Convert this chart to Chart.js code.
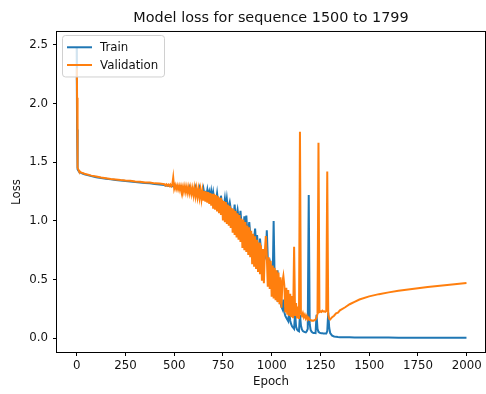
<!DOCTYPE html>
<html>
<head>
<meta charset="utf-8">
<script src="https://cdn.jsdelivr.net/npm/chart.js@4/dist/chart.umd.min.js"></script>
<style>
html,body{margin:0;padding:0;background:#ffffff;}
canvas{display:block;}
</style>
</head>
<body>
<canvas id="c" width="486" height="394"></canvas>
<script>
const titleText = 'Model loss for sequence 1500 to 1799';
const xTitle = 'Epoch';
const yTitle = 'Loss';
const seriesNames = ['Train', 'Validation'];
const xTicks = [0, 250, 500, 750, 1000, 1250, 1500, 1750, 2000];
const yTicks = [0.0, 0.5, 1.0, 1.5, 2.0, 2.5];

const epochs = [
  0, 1, 2, 3, 4, 5, 6, 8, 10, 15, 20, 30, 40,
  50, 75, 100, 125, 150, 175, 200, 225, 250, 275, 300, 325, 350, 375, 400, 425,
  450, 455, 460, 465, 470, 475, 480, 485, 490, 495,
  500, 505, 510, 515, 520, 525, 530, 535, 540, 545,
  550, 555, 560, 565, 570, 575, 580, 585, 590, 595,
  600, 605, 610, 615, 620, 625, 630, 635, 640, 645,
  650, 655, 660, 665, 670, 675, 680, 685, 690, 695,
  700, 705, 710, 715, 720, 725, 730, 735, 740, 745,
  750, 755, 760, 765, 770, 775, 780, 785, 790, 795,
  800, 805, 810, 815, 820, 825, 830, 835, 840, 845,
  850, 855, 860, 865, 870, 875, 880, 885, 890, 895,
  900, 905, 910, 915, 920, 925, 930, 935, 940, 945,
  950, 955, 960, 965, 970, 975, 980, 985, 990, 995,
  1000, 1005, 1010, 1015, 1020, 1025, 1030, 1035, 1040, 1045,
  1050, 1055, 1060, 1065, 1070, 1075, 1080, 1085, 1090, 1095,
  1100, 1105, 1110, 1115, 1120, 1125, 1130, 1135, 1140, 1145,
  1150, 1155, 1160, 1165, 1170, 1175, 1180, 1185, 1190, 1195,
  1200, 1205, 1210, 1215, 1220, 1225, 1230, 1235, 1240, 1245,
  1250, 1255, 1260, 1265, 1270, 1275, 1280, 1285, 1290, 1295,
  1300,
  1310, 1320, 1330, 1340, 1350, 1375, 1400, 1425, 1450, 1500,
  1550, 1600, 1650, 1700, 1750, 1800, 1850, 1900, 1950, 1999
];

const trainLoss = [
  2.48, 2.10, 1.78, 1.58, 1.49, 1.455, 1.44, 1.43, 1.425, 1.418, 1.412, 1.404, 1.398,
  1.392, 1.382, 1.373, 1.366, 1.360, 1.354, 1.349, 1.344, 1.340, 1.336, 1.332, 1.328, 1.324, 1.320, 1.315, 1.311,
  1.305, 1.300, 1.303, 1.298, 1.301, 1.296, 1.300, 1.294, 1.298, 1.295,
  1.292, 1.288, 1.296, 1.285, 1.290, 1.283, 1.292, 1.280, 1.287, 1.278,
  1.280, 1.272, 1.285, 1.268, 1.276, 1.264, 1.290, 1.262, 1.270, 1.258,
  1.262, 1.252, 1.285, 1.244, 1.255, 1.240, 1.280, 1.236, 1.248, 1.232,
  1.275, 1.225, 1.240, 1.215, 1.265, 1.208, 1.248, 1.200, 1.255, 1.195,
  1.245, 1.185, 1.200, 1.170, 1.235, 1.160, 1.180, 1.150, 1.215, 1.140,
  1.150, 1.125, 1.190, 1.110, 1.185, 1.100, 1.125, 1.160, 1.105, 1.075,
  1.060, 1.040, 1.140, 1.020, 1.050, 1.095, 1.030, 0.985, 1.085, 0.970,
  0.950, 0.925, 1.040, 0.905, 1.045, 0.890, 0.915, 0.990, 0.890, 0.850,
  0.860, 0.830, 0.850, 0.935, 0.800, 0.880, 0.780, 0.800, 0.850, 0.760,
  0.740, 0.700, 0.720, 0.680, 0.700, 0.920, 0.680, 0.640, 0.660, 0.620,
  0.520, 0.470, 1.000, 0.520, 0.430, 0.380, 0.580, 0.400, 0.330, 0.300,
  0.270, 0.250, 0.330, 0.220, 0.190, 0.175, 0.160, 0.145, 0.240, 0.150,
  0.120, 0.100, 0.090, 0.080, 0.215, 0.100, 0.075, 0.065, 0.060, 0.200,
  0.110, 0.075, 0.062, 0.056, 0.052, 0.050, 0.060, 0.080, 1.220, 0.120,
  0.070, 0.055, 0.048, 0.045, 0.044, 0.043, 0.200, 0.080, 0.055, 0.048,
  0.045, 0.043, 0.042, 0.041, 0.041, 0.040, 0.040, 0.060, 0.220, 0.090,
  0.045,
  0.022, 0.015, 0.012, 0.010, 0.009, 0.008, 0.008, 0.007, 0.007, 0.006,
  0.006, 0.006, 0.005, 0.005, 0.005, 0.005, 0.005, 0.005, 0.005, 0.005
];

const valLoss = [
  2.20, 2.30, 2.05, 1.75, 1.56, 1.48, 1.455, 1.44, 1.432, 1.422, 1.416, 1.408, 1.402,
  1.397, 1.386, 1.378, 1.370, 1.364, 1.358, 1.353, 1.348, 1.344, 1.342, 1.336, 1.334, 1.328, 1.327, 1.320, 1.318,
  1.312, 1.302, 1.311, 1.300, 1.309, 1.297, 1.310, 1.295, 1.306, 1.370,
  1.275, 1.305, 1.272, 1.302, 1.268, 1.300, 1.262, 1.298, 1.260, 1.295,
  1.250, 1.294, 1.246, 1.290, 1.240, 1.287, 1.236, 1.284, 1.230, 1.278,
  1.218, 1.280, 1.212, 1.274, 1.205, 1.268, 1.198, 1.262, 1.185, 1.255,
  1.172, 1.255, 1.165, 1.250, 1.155, 1.245, 1.145, 1.238, 1.130, 1.230,
  1.105, 1.232, 1.095, 1.220, 1.080, 1.210, 1.065, 1.198, 1.050, 1.180,
  1.005, 1.170, 0.990, 1.160, 0.975, 1.140, 0.960, 1.128, 0.940, 1.110,
  0.900, 1.100, 0.880, 1.085, 0.860, 1.065, 0.840, 1.050, 0.820, 1.020,
  0.770, 1.010, 0.750, 0.990, 0.735, 0.960, 0.710, 0.945, 0.690, 0.915,
  0.630, 0.890, 0.610, 0.870, 0.590, 0.840, 0.565, 0.815, 0.545, 0.790,
  0.490, 0.760, 0.470, 0.745, 0.870, 0.700, 0.440, 0.690, 0.420, 0.660,
  0.355, 0.620, 0.340, 0.600, 0.325, 0.580, 0.310, 0.560, 0.290, 0.520,
  0.260, 0.480, 0.530, 0.450, 0.220, 0.430, 0.200, 0.410, 0.190, 0.380,
  0.180, 0.360, 0.170, 0.780, 0.190, 0.300, 0.170, 0.270, 0.165, 1.760,
  0.210, 0.190, 0.215, 0.180, 0.200, 0.170, 0.190, 0.160, 0.175, 0.155,
  0.155, 0.150, 0.152, 0.150, 0.155, 0.160, 0.175, 0.210, 1.665, 0.225,
  0.230, 0.225, 0.235, 0.228, 0.230, 0.225, 0.232, 1.420, 0.200, 0.165,
  0.160,
  0.180, 0.192, 0.212, 0.218, 0.238, 0.262, 0.290, 0.310, 0.330, 0.357,
  0.376, 0.391, 0.404, 0.416, 0.427, 0.437, 0.446, 0.454, 0.462, 0.470
];

const FONT = '"DejaVu Sans", sans-serif';
const TEXT = '#111111';
const trainColor = '#1f77b4';
const valColor = '#ff7f0e';

const framePlugin = {
  id: 'frame',
  afterDatasetsDraw(chart) {
    const {ctx, chartArea: a} = chart;
    ctx.save();
    ctx.strokeStyle = '#000000';
    ctx.lineWidth = 1;
    ctx.strokeRect(a.left - 0.5, a.top - 0.5, a.right - a.left + 1, a.bottom - a.top + 1);
    ctx.restore();
  }
};

const legendPlugin = {
  id: 'mplLegend',
  afterDraw(chart) {
    const {ctx, chartArea: a} = chart;
    const x0 = a.left + 6, y0 = a.top + 3.5, w = 102, h = 41.5, r = 3;
    ctx.save();
    ctx.beginPath();
    ctx.roundRect(x0 - 0.5, y0, w, h, r);
    ctx.fillStyle = 'rgba(255,255,255,0.8)';
    ctx.fill();
    ctx.strokeStyle = '#d0d0d0';
    ctx.lineWidth = 1;
    ctx.stroke();
    const items = [
      {label: seriesNames[0], color: trainColor, y: a.top + 15.3},
      {label: seriesNames[1], color: valColor, y: a.top + 33}
    ];
    ctx.font = '11.8px ' + FONT;
    ctx.textBaseline = 'middle';
    ctx.textAlign = 'left';
    items.forEach(it => {
      ctx.beginPath();
      ctx.strokeStyle = it.color;
      ctx.lineWidth = 2;
      ctx.moveTo(a.left + 10, it.y);
      ctx.lineTo(a.left + 35, it.y);
      ctx.stroke();
      ctx.fillStyle = TEXT;
      ctx.fillText(it.label, a.left + 43, it.y + 0.5);
    });
    ctx.restore();
  }
};

const tickFont = {family: FONT, size: 11.8};

new Chart(document.getElementById('c'), {
  type: 'line',
  data: {
    datasets: [
      {
        label: seriesNames[0],
        data: epochs.map((e, i) => ({x: e, y: trainLoss[i]})),
        borderColor: trainColor,
        backgroundColor: trainColor,
        borderWidth: 2,
        pointRadius: 0,
        tension: 0,
        fill: false,
        order: 1
      },
      {
        label: seriesNames[1],
        data: epochs.map((e, i) => ({x: e, y: valLoss[i]})),
        borderColor: valColor,
        backgroundColor: valColor,
        borderWidth: 2,
        pointRadius: 0,
        tension: 0,
        fill: false,
        order: 0
      }
    ]
  },
  options: {
    responsive: false,
    animation: false,
    devicePixelRatio: 1,
    events: [],
    layout: {padding: {left: 0, right: 1, top: 0, bottom: 0}},
    plugins: {
      legend: {display: false},
      tooltip: {enabled: false},
      title: {
        display: true,
        text: titleText,
        fullSize: false,
        color: TEXT,
        font: {family: FONT, size: 14.4, weight: 'normal'},
        padding: {top: 10, bottom: 4.7}
      }
    },
    scales: {
      x: {
        type: 'linear',
        min: -101,
        max: 2094,
        afterBuildTicks: s => { s.ticks = xTicks.map(v => ({value: v})); },
        afterFit: s => { s.height = 42; },
        ticks: {
          color: TEXT,
          font: tickFont,
          padding: 3,
          maxRotation: 0,
          autoSkip: false,
          callback: v => String(v)
        },
        grid: {display: true, drawOnChartArea: false, drawTicks: true, tickLength: 4, color: '#000000', lineWidth: 1},
        border: {display: false},
        title: {display: true, text: xTitle, color: TEXT, font: tickFont, padding: {top: 0, bottom: 4.9}}
      },
      y: {
        type: 'linear',
        min: -0.117,
        max: 2.61,
        afterBuildTicks: s => { s.ticks = yTicks.map(v => ({value: v})); },
        afterFit: s => { s.width = 57; },
        ticks: {
          color: TEXT,
          font: tickFont,
          padding: 5,
          autoSkip: false,
          callback: v => v.toFixed(1)
        },
        grid: {display: true, drawOnChartArea: false, drawTicks: true, tickLength: 4, color: '#000000', lineWidth: 1},
        border: {display: false},
        title: {display: true, text: yTitle, color: TEXT, font: tickFont, padding: {top: 10.3, bottom: 0}}
      }
    }
  },
  plugins: [framePlugin, legendPlugin]
});
</script>
</body>
</html>
